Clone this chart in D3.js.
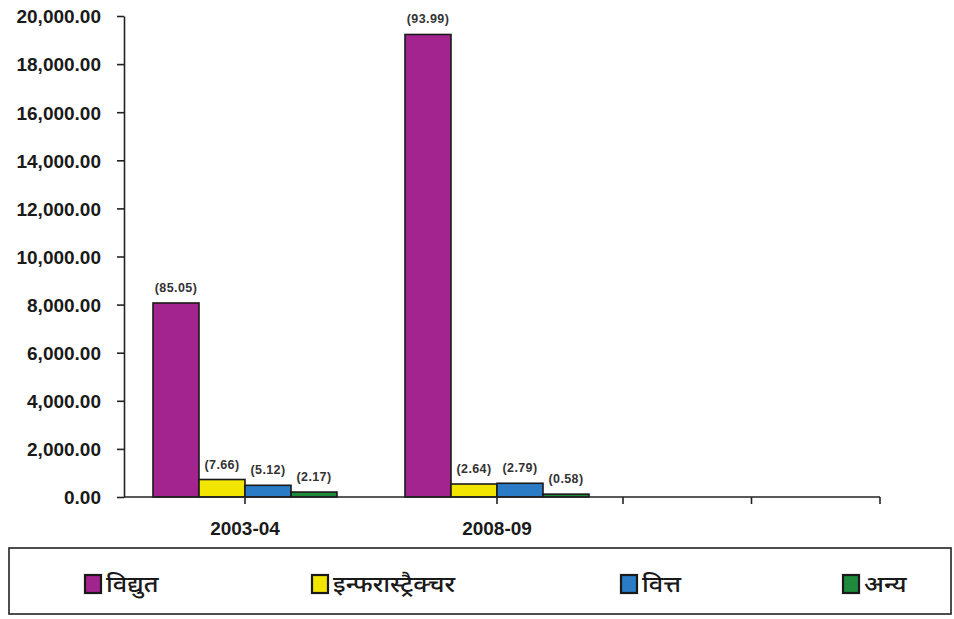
<!DOCTYPE html>
<html><head><meta charset="utf-8">
<script src="https://cdn.jsdelivr.net/npm/d3@7"></script>
<style>
body{margin:0;background:#fff;}
svg{display:block;}
</style></head>
<body>
<svg id="chart" width="954" height="619"></svg>
<script>
// ---- data ----
const categories = ["2003-04", "2008-09"];
const seriesNames = ["विद्युत", "इन्फरास्ट्रैक्चर", "वित्त", "अन्य"];
const seriesColors = ["#a3238f", "#f2e600", "#2a7cc6", "#1d8a3c"];
const values2003 = [8067, 727, 486, 206];
const values2008 = [19231, 540, 571, 119];
const pctLabels2003 = ["(85.05)", "(7.66)", "(5.12)", "(2.17)"];
const pctLabels2008 = ["(93.99)", "(2.64)", "(2.79)", "(0.58)"];
const yTicks = [0, 2000, 4000, 6000, 8000, 10000, 12000, 14000, 16000, 18000, 20000];
const emptySlots = 2; // empty category slots after data (axis continues)

const values = [values2003, values2008];
const pcts = [pctLabels2003, pctLabels2008];

const svg = d3.select("#chart");
const mLeft = 124, mRight = 880, mTop = 16, mBottom = 497;
const fontLatin = "'Liberation Sans', Arial, sans-serif";

const y = d3.scaleLinear().domain([0, 20000]).range([mBottom, mTop]);
const x = d3.scaleBand().domain(categories).range([119, 623]).paddingInner(0).paddingOuter(0);
const bw = x.bandwidth();
const xs = d3.scaleBand().domain(d3.range(4)).range([bw/2 - 92, bw/2 + 92]).padding(0);
const slot = (mRight - x.range()[1]) / emptySlots;

// y axis
const yAxis = d3.axisLeft(y).tickValues(yTicks).tickSize(7).tickSizeOuter(0)
  .tickFormat(d => d3.format(",.2f")(d));
const gy = svg.append("g").attr("transform", `translate(${mLeft},0)`).call(yAxis);
gy.select(".domain").attr("stroke", "#222").attr("stroke-width", 1.6);
gy.selectAll(".tick line").attr("stroke", "#222").attr("stroke-width", 1.6);
gy.selectAll(".tick text").attr("x", -23).attr("dy", "0.36em")
  .style("font-family", fontLatin)
  .style("font-weight", "bold").style("font-size", "19px").attr("fill", "#1a1a1a");

// bars
categories.forEach((c, ci) => {
  const g = svg.append("g").attr("transform", `translate(${x(c)},0)`);
  g.selectAll("rect").data(values[ci]).join("rect")
    .attr("x", (d, i) => xs(i))
    .attr("y", d => y(d))
    .attr("width", xs.bandwidth())
    .attr("height", d => y(0) - y(d))
    .attr("fill", (d, i) => seriesColors[i])
    .attr("stroke", "#1a1a1a").attr("stroke-width", 1.6);
  g.selectAll("text.lbl").data(values[ci]).join("text").attr("class", "lbl")
    .attr("x", (d, i) => xs(i) + xs.bandwidth()/2)
    .attr("y", d => y(d) - 11)
    .attr("text-anchor", "middle")
    .style("font-family", fontLatin).style("letter-spacing", "0.4px")
    .style("font-weight", "bold").style("font-size", "12.5px").attr("fill", "#333")
    .text((d, i) => pcts[ci][i]);
});

// x axis
svg.append("line").attr("x1", mLeft).attr("x2", mRight).attr("y1", mBottom).attr("y2", mBottom)
  .attr("stroke", "#222").attr("stroke-width", 1.6);
const tickXs = categories.map(c => x(c) + bw/2)
  .concat(d3.range(0, emptySlots + 1).map(i => x.range()[1] + i * slot));
svg.selectAll("line.xt").data(tickXs).join("line").attr("class", "xt")
  .attr("x1", d => d).attr("x2", d => d).attr("y1", mBottom).attr("y2", mBottom + 7)
  .attr("stroke", "#222").attr("stroke-width", 1.6);
svg.selectAll("text.xl").data(categories).join("text").attr("class", "xl")
  .attr("x", c => x(c) + bw/2).attr("y", 535).attr("text-anchor", "middle")
  .style("font-family", fontLatin)
  .style("font-weight", "bold").style("font-size", "19px").attr("fill", "#1a1a1a")
  .text(c => c);

// legend
svg.append("rect").attr("x", 9).attr("y", 548).attr("width", 942).attr("height", 66)
  .attr("fill", "none").attr("stroke", "#222").attr("stroke-width", 1.6);
const legX = [85, 312, 621, 843];
const lg = svg.selectAll("g.leg").data(seriesNames).join("g").attr("class", "leg")
  .attr("transform", (d, i) => `translate(${legX[i]},575)`);
lg.append("rect").attr("width", 16).attr("height", 18)
  .attr("fill", (d, i) => seriesColors[i]).attr("stroke", "#1a1a1a").attr("stroke-width", 2.2);
lg.append("text").attr("transform", "translate(21,17) scale(1.1,1)")
  .style("font-family", "'Noto Sans', 'Noto Sans Devanagari', 'Lohit Devanagari', sans-serif")
  .style("font-size", "23px").style("font-weight", "500").attr("fill", "#1a1a1a")
  .text(d => d);
</script>
</body></html>
